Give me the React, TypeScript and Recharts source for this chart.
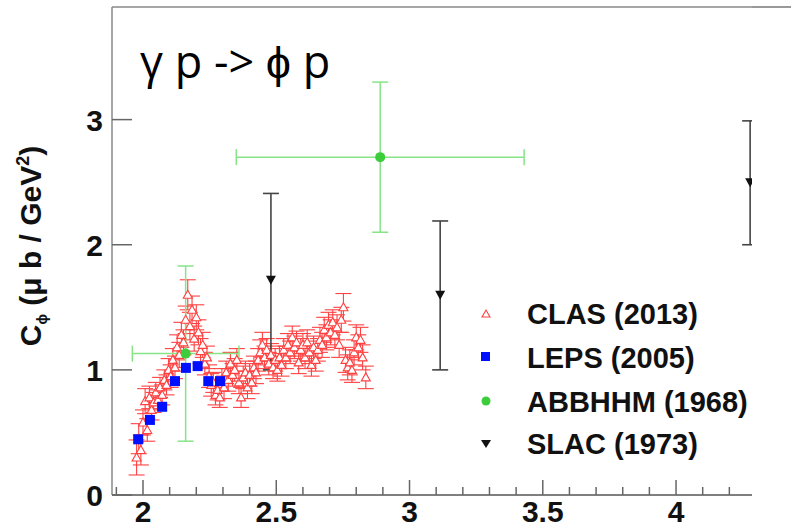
import React from 'react';
import { ScatterChart, Scatter, XAxis, YAxis, ErrorBar, ReferenceLine, Customized } from 'recharts';

// CLAS (2013)
const clasX = [
  1.976, 1.984, 1.992, 2.0, 2.008, 2.016, 2.024, 2.032, 2.04, 2.048, 2.056, 2.064, 2.072, 2.08, 2.088, 2.096,
  2.104, 2.112, 2.12, 2.128, 2.136, 2.144, 2.152, 2.16, 2.168, 2.176, 2.184, 2.192, 2.2, 2.208, 2.216, 2.224,
  2.232, 2.24, 2.248, 2.256, 2.264, 2.272, 2.28, 2.288, 2.296, 2.304, 2.312, 2.32, 2.328, 2.336, 2.344, 2.352,
  2.36, 2.368, 2.376, 2.384, 2.392, 2.4, 2.408, 2.416, 2.424, 2.432, 2.44, 2.448, 2.456, 2.464, 2.472, 2.48,
  2.488, 2.496, 2.504, 2.512, 2.52, 2.528, 2.536, 2.544, 2.552, 2.56, 2.568, 2.576, 2.584, 2.592, 2.6, 2.608,
  2.616, 2.624, 2.632, 2.64, 2.648, 2.656, 2.664, 2.672, 2.68, 2.688, 2.696, 2.704, 2.712, 2.72, 2.728, 2.736,
  2.744, 2.752, 2.76, 2.768, 2.776, 2.784, 2.792, 2.8, 2.808, 2.816, 2.824, 2.836,
];
const clasY = [
  0.3, 0.45, 0.36, 0.58, 0.75, 0.52, 0.78, 0.68, 0.74, 0.82, 0.76, 0.86, 0.8, 0.92, 0.88, 1.0,
  0.95, 1.08, 1.02, 1.18, 1.12, 1.28, 1.22, 1.4, 1.6, 1.35, 1.48, 1.25, 1.42, 1.3, 1.15, 1.2,
  1.05, 1.1, 0.95, 0.88, 0.9, 0.8, 0.84, 0.78, 0.92, 0.86, 0.98, 0.92, 1.05, 0.96, 1.0, 1.08,
  0.9, 0.78, 0.94, 0.98, 0.86, 0.96, 0.9, 1.02, 0.98, 1.08, 1.14, 1.2, 1.1, 1.16, 1.05, 1.12,
  1.02, 1.08, 1.0, 1.1, 1.04, 1.16, 1.1, 1.2, 1.14, 1.26, 1.18, 1.22, 1.06, 1.16, 1.2, 1.1,
  1.22, 1.14, 1.04, 1.18, 1.08, 1.16, 1.24, 1.2, 1.32, 1.26, 1.36, 1.3, 1.38, 1.28, 1.34, 1.2,
  1.4, 1.5, 1.08, 1.02, 1.06, 1.0, 1.14, 1.26, 1.18, 1.24, 1.1, 0.94,
];
const clasErr = [
  0.14, 0.12, 0.12, 0.1, 0.1, 0.09, 0.09, 0.08, 0.08, 0.08, 0.08, 0.08, 0.08, 0.08, 0.08, 0.09,
  0.09, 0.09, 0.09, 0.1, 0.1, 0.1, 0.1, 0.11, 0.12, 0.11, 0.11, 0.1, 0.1, 0.1, 0.1, 0.1,
  0.09, 0.09, 0.09, 0.09, 0.08, 0.08, 0.08, 0.08, 0.09, 0.09, 0.09, 0.09, 0.09, 0.09, 0.09, 0.09,
  0.09, 0.08, 0.09, 0.09, 0.09, 0.09, 0.09, 0.09, 0.09, 0.09, 0.1, 0.1, 0.09, 0.09, 0.09, 0.09,
  0.09, 0.09, 0.09, 0.09, 0.09, 0.09, 0.09, 0.09, 0.09, 0.09, 0.09, 0.09, 0.09, 0.09, 0.09, 0.09,
  0.1, 0.09, 0.09, 0.09, 0.09, 0.09, 0.1, 0.1, 0.1, 0.1, 0.1, 0.1, 0.1, 0.1, 0.1, 0.1,
  0.1, 0.11, 0.1, 0.1, 0.1, 0.1, 0.1, 0.1, 0.1, 0.1, 0.1, 0.09,
];

// LEPS (2005)
const lepsX = [1.982, 2.026, 2.072, 2.12, 2.161, 2.205, 2.245, 2.289];
const lepsY = [0.445, 0.6, 0.705, 0.91, 1.016, 1.03, 0.91, 0.91];

// ABBHHM (1968)
const abbhhmX = [2.16, 2.89];
const abbhhmY = [1.13, 2.7];
const abbhhmXErr = [0.2, 0.54];
const abbhhmYErr = [0.7, 0.6];

// SLAC (1973)
const slacX = [2.48, 3.115, 4.278];
const slacY = [1.72, 1.6, 2.5];
const slacLow = [0.72, 0.6, 0.5];
const slacHigh = [0.69, 0.59, 0.49];

const xTicks = [1.9, 2.0, 2.1, 2.2, 2.3, 2.4, 2.5, 2.6, 2.7, 2.8, 2.9, 3.0, 3.1, 3.2, 3.3, 3.4, 3.5, 3.6, 3.7, 3.8, 3.9, 4.0, 4.1, 4.2];
const xMajor = [2, 2.5, 3, 3.5, 4];
const yTicks = [0, 1, 2, 3];
const legendNames = ['CLAS (2013)', 'LEPS (2005)', 'ABBHHM (1968)', 'SLAC (1973)'];

const clasData = clasX.map((x, i) => ({ x, y: clasY[i], ey: clasErr[i] }));
const lepsData = lepsX.map((x, i) => ({ x, y: lepsY[i] }));
const abbhhmData = abbhhmX.map((x, i) => ({ x, y: abbhhmY[i], ex: abbhhmXErr[i], ey: abbhhmYErr[i] }));
const slacData = slacX.map((x, i) => ({ x, y: slacY[i], ey: [slacLow[i], slacHigh[i]] }));

const FONT = '"Liberation Sans", Arial, sans-serif';
const RED = '#ff4040';

const isMajor = (v: number) => xMajor.some((m) => Math.abs(m - v) < 1e-6);

const XTick = (props: any) => {
  const { x, y, payload } = props;
  const major = isMajor(payload.value);
  return (
    <g>
      <line x1={x} x2={x} y1={y} y2={y - (major ? 15 : 8)} stroke="#666" strokeWidth={1.5} />
      {major && (
        <text x={x} y={y + 27} textAnchor="middle" fontFamily={FONT} fontWeight="bold" fontSize={30} fill="#111">
          {String(payload.value)}
        </text>
      )}
    </g>
  );
};

const YTick = (props: any) => {
  const { x, y, payload } = props;
  return (
    <g>
      <line x1={x} x2={x + 20} y1={y} y2={y} stroke="#666" strokeWidth={1.5} />
      <text x={x - 9} y={y + 11} textAnchor="end" fontFamily={FONT} fontWeight="bold" fontSize={30} fill="#111">
        {String(payload.value)}
      </text>
    </g>
  );
};

const OpenTriangle = (props: any) => {
  const { cx, cy } = props;
  return (
    <polygon
      points={`${cx},${cy - 4.5} ${cx + 4.5},${cy + 3.5} ${cx - 4.5},${cy + 3.5}`}
      fill="#fff"
      stroke={RED}
      strokeWidth={1.1}
    />
  );
};

const BlueSquare = (props: any) => {
  const { cx, cy } = props;
  return <rect x={cx - 5} y={cy - 5} width={10} height={10} fill="#0010ff" />;
};

const GreenDot = (props: any) => {
  const { cx, cy } = props;
  return <circle cx={cx} cy={cy} r={5} fill="#3ccc3c" />;
};

const DownTriangle = (props: any) => {
  const { cx, cy } = props;
  return <polygon points={`${cx - 5},${cy - 4} ${cx + 5},${cy - 4} ${cx},${cy + 5}`} fill="#111" />;
};

const Decorations = () => (
  <g>
    <text x={140} y={78} fontFamily='"Open Sans", sans-serif' fontSize={45} fill="#000">
      γ p -&gt; ϕ p
    </text>
    <text
      transform="rotate(-90)"
      x={-246}
      y={41}
      textAnchor="middle"
      fontFamily={FONT}
      fontWeight="bold"
      fontSize={30}
      fill="#111"
    >
      C<tspan dy={6} fontSize={14}>ϕ</tspan>
      <tspan dy={-6}> (μ b / GeV</tspan>
      <tspan dy={-12} fontSize={18}>2</tspan>
      <tspan dy={12}>)</tspan>
    </text>
    <g>
      <polygon points="482,317 490,317 486,310" fill="#fff" stroke={RED} strokeWidth={1.1} />
      <rect x={481} y={352} width={9} height={9} fill="#0010ff" />
      <circle cx={486} cy={401} r={4.5} fill="#3ccc3c" />
      <polygon points="481,440 491,440 486,448" fill="#111" />
      {legendNames.map((name, i) => (
        <text
          key={name}
          x={527}
          y={[324, 368, 412, 454][i]}
          fontFamily={FONT}
          fontWeight="bold"
          fontSize={29}
          fill="#111"
        >
          {name}
        </text>
      ))}
    </g>
  </g>
);

export default function App() {
  return (
    <div style={{ position: 'absolute', left: 0, top: 0, width: 791, height: 530, background: '#fff' }}>
      <ScatterChart width={752} height={530} margin={{ top: 7, right: 0, bottom: 0, left: 0 }}>
        <XAxis
          type="number"
          dataKey="x"
          domain={[1.8837, 4.285]}
          ticks={xTicks}
          interval={0}
          height={35}
          tickSize={0}
          tickMargin={0}
          tickLine={false}
          tick={<XTick />}
          axisLine={{ stroke: '#555', strokeWidth: 1.5 }}
          allowDataOverflow
        />
        <YAxis
          type="number"
          dataKey="y"
          domain={[0, 3.9]}
          ticks={yTicks}
          interval={0}
          width={112}
          tickSize={0}
          tickMargin={0}
          tickLine={false}
          tick={<YTick />}
          axisLine={{ stroke: '#888', strokeWidth: 1.5 }}
          allowDataOverflow
        />
        <ReferenceLine y={3.9} stroke="#888" strokeWidth={1.5} />
        <Scatter data={clasData} shape={<OpenTriangle />} isAnimationActive={false}>
          <ErrorBar dataKey="ey" direction="y" width={8} stroke={RED} strokeWidth={1.1} />
        </Scatter>
        <Scatter data={abbhhmData} shape={<GreenDot />} isAnimationActive={false}>
          <ErrorBar dataKey="ey" direction="y" width={8} stroke="#86e486" strokeWidth={1.5} />
          <ErrorBar dataKey="ex" direction="x" width={8} stroke="#86e486" strokeWidth={1.5} />
        </Scatter>
        <Scatter data={lepsData} shape={<BlueSquare />} isAnimationActive={false} />
        <Scatter data={slacData} shape={<DownTriangle />} isAnimationActive={false}>
          <ErrorBar dataKey="ey" direction="y" width={8} stroke="#444" strokeWidth={1.6} />
        </Scatter>
        <Customized component={Decorations} />
      </ScatterChart>
      <div style={{ position: 'absolute', left: 752, top: 6, width: 39, height: 2, background: '#999' }} />
    </div>
  );
}
